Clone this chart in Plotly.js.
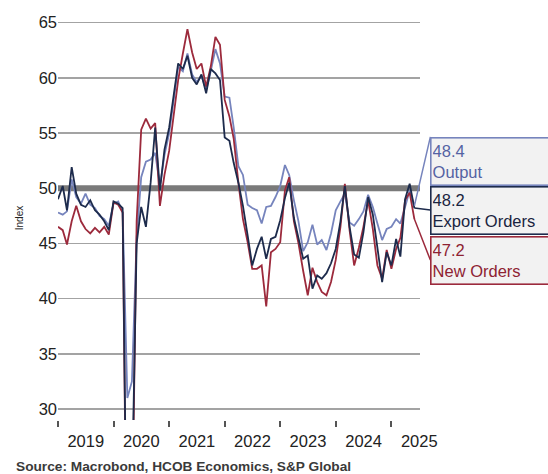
<!DOCTYPE html>
<html>
<head>
<meta charset="utf-8">
<script src="https://cdn.plot.ly/plotly-3.0.1.min.js"></script>
<style>
  html, body { margin: 0; padding: 0; background: #fff; }
  #chart { width: 548px; height: 474px; }
</style>
</head>
<body>
<div id="chart"></div>
<script>
// Monthly PMI sub-indices, Jan 2019 - Jun 2025
const startMonth = '2019-01';

const output = [
  47.8, 47.6, 47.9, 50.8, 49.2, 48.6, 49.5, 48.5, 48.2, 47.5, 47.2, 46.6,
  48.6, 48.8, 47.8, 31.0, 32.5, 45.5, 51.0, 52.4, 52.6, 53.2, 50.2, 53.0,
  55.0, 58.3, 61.0, 60.6, 62.2, 60.3, 59.6, 60.2, 58.9, 60.6, 62.6, 61.3,
  58.3, 58.2, 55.5, 52.0, 51.2, 48.5, 48.2, 48.0, 46.8, 48.3, 48.4, 49.2,
  50.2, 52.1, 51.2, 48.9, 47.0, 44.3, 45.1, 46.7, 44.9, 45.3, 44.4, 45.9,
  48.0, 48.8, 49.5, 46.9, 46.6, 47.2, 47.9, 49.4, 48.3, 46.8, 45.3, 46.3,
  46.5, 47.2, 46.8, 48.3, 49.8, 48.4
];

const exportOrders = [
  49.0, 50.2, 48.0, 51.9, 49.5, 48.5, 48.3, 48.9, 48.0, 47.6, 47.0, 46.2,
  48.8, 48.6, 48.2, 12.0, 22.0, 45.0, 48.3, 46.5, 50.5, 55.5, 49.8, 53.5,
  55.5, 58.5, 61.3, 60.8, 62.0, 60.0, 59.4, 60.3, 58.6, 60.8, 60.4, 59.8,
  54.6, 54.3, 52.3, 50.5, 48.4, 45.7, 43.0, 44.5, 45.6, 43.6, 45.4, 45.6,
  47.1, 49.1, 50.5, 47.3, 45.4, 43.6, 43.9, 40.9, 42.1, 41.8, 42.3, 43.2,
  44.5, 47.0, 50.2, 46.5, 44.0, 43.7, 46.0, 49.2, 47.6, 44.5, 41.5, 44.2,
  43.0, 45.4, 43.8, 49.0, 50.4, 48.2
];

const newOrders = [
  46.5, 46.2, 44.9, 47.0, 48.4, 47.0, 46.3, 45.9, 46.4, 46.0, 46.5, 45.8,
  48.7, 48.5, 47.8, 10.0, 18.0, 47.0, 55.3, 56.3, 55.4, 55.9, 48.4, 51.2,
  53.4, 56.5, 59.8, 62.2, 64.4, 62.3, 60.8, 61.3, 59.2, 61.0, 63.7, 63.0,
  58.0, 56.5, 54.5, 50.5, 47.2, 45.1, 42.7, 42.7, 43.0, 39.3, 44.2, 44.5,
  45.1, 49.8, 51.0, 47.0, 45.0, 42.5, 40.3, 42.8, 41.5, 40.6, 40.3, 41.5,
  43.5, 46.5, 50.4, 46.2, 43.0, 44.6, 46.5, 48.9, 46.3, 43.0, 41.8, 44.4,
  42.7, 44.5, 45.5, 48.9, 49.6, 47.2
];

const seriesNames = ['Output', 'Export Orders', 'New Orders'];
const seriesColors = ['#7684bd', '#1d2b4c', '#9c2a3c'];
const labelColors = ['#5563a3', '#1a2440', '#8e2233'];
const yTicks = [30, 35, 40, 45, 50, 55, 60, 65];
const xRange = ['2019-01-01', '2025-07-08'];
const sourceText = 'Source: Macrobond, HCOB Economics, S&P Global';

// month dates for the x axis
const months = [];
let [yy, mm] = startMonth.split('-').map(Number);
for (let i = 0; i < output.length; i++) {
  months.push(`${yy}-${String(mm).padStart(2, '0')}-01`);
  mm++;
  if (mm > 12) { mm = 1; yy++; }
}
const lastMonth = months[months.length - 1];

function line(values, idx) {
  return {
    x: months,
    y: values,
    name: seriesNames[idx],
    type: 'scatter',
    mode: 'lines',
    line: { color: seriesColors[idx], width: 1.8 },
    hoverinfo: 'x+y+name'
  };
}

// draw order: output, new orders, export orders on top
const traces = [line(output, 0), line(newOrders, 2), line(exportOrders, 1)];

function callout(values, idx, ax, ay, yanchor) {
  const v = values[values.length - 1];
  return {
    x: lastMonth, y: v, xref: 'x', yref: 'y',
    text: v.toFixed(1) + '<br>' + seriesNames[idx],
    showarrow: true, arrowhead: 0, arrowwidth: 1.5,
    arrowcolor: seriesColors[idx],
    ax: ax, ay: ay,
    xanchor: 'left', yanchor: yanchor, align: 'left',
    width: 128, height: 44,
    bgcolor: '#f2f2f2',
    bordercolor: seriesColors[idx], borderwidth: 1.6, borderpad: 1,
    font: { family: 'Liberation Sans, Arial, sans-serif', size: 16.5, color: labelColors[idx] }
  };
}

const layout = {
  width: 548,
  height: 474,
  margin: { l: 58, r: 128, t: 16, b: 54 },
  paper_bgcolor: '#ffffff',
  plot_bgcolor: '#ffffff',
  showlegend: false,
  font: { family: 'Liberation Sans, Arial, sans-serif', color: '#222' },
  xaxis: {
    type: 'date',
    range: xRange,
    tick0: '2019-01-01',
    dtick: 'M12',
    tickformat: '%Y',
    ticklabelmode: 'period',
    ticks: 'outside',
    ticklen: 6,
    tickwidth: 2,
    tickcolor: '#555',
    showgrid: false,
    zeroline: false,
    showline: false,
    tickfont: { size: 16.5, color: '#222' }
  },
  yaxis: {
    range: [29, 65.6],
    tickvals: yTicks,
    showgrid: true,
    gridcolor: '#a3a3a3',
    gridwidth: 1.6,
    zeroline: false,
    showline: false,
    ticks: '',
    tickfont: { size: 16.5, color: '#222' },
    title: { text: 'Index', font: { size: 10, color: '#222' }, standoff: 13 }
  },
  // thick reference line at 50, above the gridlines, below the series
  shapes: [{
    type: 'line', xref: 'x', yref: 'y',
    x0: xRange[0], x1: xRange[1], y0: 50, y1: 50,
    line: { color: '#7a7a7a', width: 6 },
    layer: 'between'
  }],
  annotations: [
    callout(output, 0, 16, -69, 'top'),
    callout(exportOrders, 1, 16, 2, 'middle'),
    callout(newOrders, 2, 16, 41, 'middle'),
    {
      xref: 'paper', yref: 'paper',
      x: -0.1215, y: -0.114,
      xanchor: 'left', yanchor: 'middle',
      showarrow: false,
      text: '<b>' + sourceText + '</b>',
      font: { size: 13.7, color: '#3a3a3a' }
    }
  ]
};

Plotly.newPlot('chart', traces, layout, { displayModeBar: false, staticPlot: true });
</script>
</body>
</html>
